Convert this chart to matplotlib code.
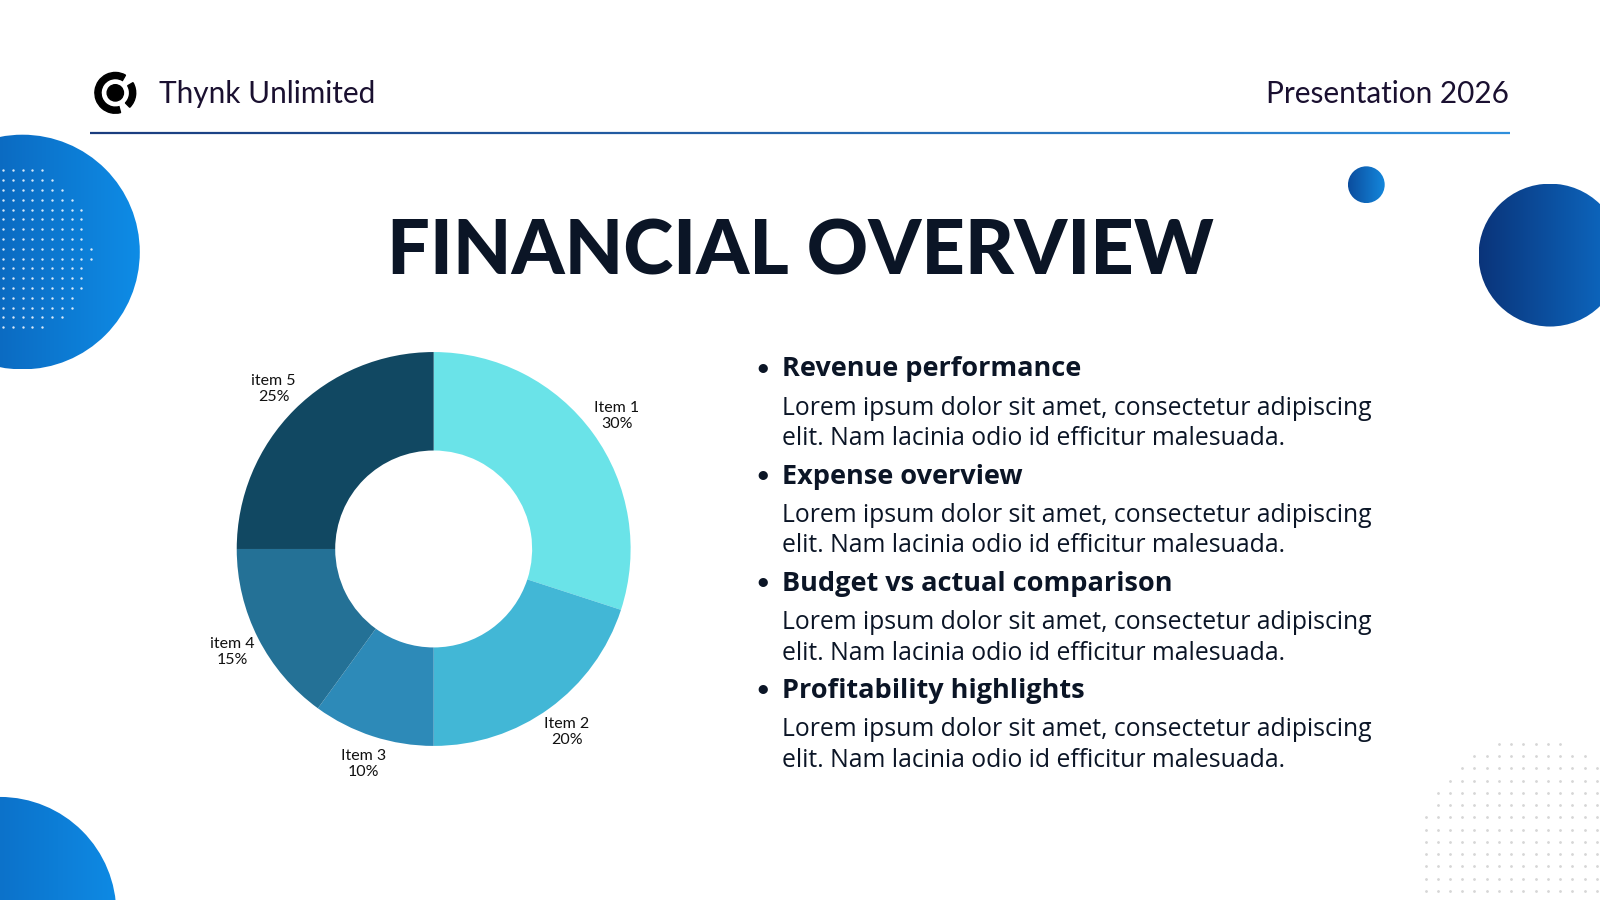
import numpy as np
import matplotlib.pyplot as plt
from matplotlib.patches import Circle, Wedge
from matplotlib.colors import LinearSegmentedColormap
from matplotlib.collections import LineCollection

# data
items = ['Item 1', 'Item 2', 'Item 3', 'item 4', 'item 5']
shares = [30, 20, 10, 15, 25]
slice_colors = ['#6ae3e8', '#42b7d6', '#2d8ab8', '#247196', '#114862']

headings = ['Revenue performance', 'Expense overview',
            'Budget vs actual comparison', 'Profitability highlights']
body_text = ('Lorem ipsum dolor sit amet, consectetur adipiscing\n'
             'elit. Nam lacinia odio id efficitur malesuada.')

company = 'Thynk Unlimited'
deck = 'Presentation 2026'
title = 'FINANCIAL OVERVIEW'

W, H = 1568, 882
INK = '#0b1526'
FONT = 'Lato'
BODY = 'Open Sans'

fig = plt.figure(figsize=(16, 9), dpi=100)
bg = fig.add_axes([0, 0, 1, 1])
bg.set_xlim(0, W)
bg.set_ylim(H, 0)
bg.axis('off')


def grad_circle(ax, cx, cy, r, c0, c1, z=1):
    cmap = LinearSegmentedColormap.from_list('g', [c0, c1])
    g = np.linspace(0, 1, 256).reshape(1, -1)
    im = ax.imshow(g, cmap=cmap, extent=(cx - r, cx + r, cy + r, cy - r),
                   aspect='auto', zorder=z, interpolation='bicubic')
    clip = Circle((cx, cy), r, transform=ax.transData)
    im.set_clip_path(clip)
    return im


# decorative circles
grad_circle(bg, 22, 247, 115, '#0a55aa', '#0e8ce6')
grad_circle(bg, 0, 895, 114, '#0a5ab0', '#0e8ae4')
grad_circle(bg, 1339, 181, 18, '#0b4d9e', '#1487dc')
grad_circle(bg, 1519, 250, 70, '#0a347a', '#0d6cc6')
bg.set_xlim(0, W)
bg.set_ylim(H, 0)

# dot pattern on left circle
gx, gy = np.meshgrid(np.arange(3, 100, 9.6), np.arange(167, 330, 9.6))
m = (gx ** 2 + (gy - 246) ** 2) < 90 ** 2
bg.scatter(gx[m], gy[m], s=3, color='white', alpha=0.85, lw=0, zorder=2)

# dot pattern bottom right
gx, gy = np.meshgrid(np.arange(1397, W, 12), np.arange(729, H, 12))
m = ((gx - 1500) ** 2 + (gy - 838) ** 2) < 114 ** 2
bg.scatter(gx[m], gy[m], s=4, color='#d6d6d6', lw=0, zorder=2)

# header rule with gradient
xs = np.linspace(88, 1480, 300)
segs = [[(xs[i], 130), (xs[i + 1], 130)] for i in range(len(xs) - 1)]
rule_cmap = LinearSegmentedColormap.from_list('r', ['#1a3c7e', '#2f8fdc'])
bg.add_collection(LineCollection(segs, colors=rule_cmap(np.linspace(0, 1, len(segs))),
                                 linewidths=1.6, zorder=3))

# logo
bg.add_patch(Wedge((113, 91), 20, 75, 300, width=6, color='black', zorder=4))
bg.add_patch(Wedge((113, 91), 20, -30, 45, width=6, color='black', zorder=4))
bg.add_patch(Circle((113, 91), 8, color='black', zorder=4))

bg.text(156, 92, company, fontsize=21.4, family=FONT, fontweight='normal',
        color='#1a1030', ha='left', va='center')
bg.text(1479, 92, deck, fontsize=21.4, family=FONT, fontweight='normal',
        color='#1a1030', ha='right', va='center')

bg.text(784, 247, title, fontsize=54.5, family=FONT, fontweight='black',
        color=INK, ha='center', va='center')

# bullet list
for i, head in enumerate(headings):
    y0 = 362 + 105 * i
    bg.text(747, y0 - 1, '\u2022', fontsize=18, family=FONT, color=INK,
            ha='center', va='center')
    bg.text(766, y0, head, fontsize=19.5, family=BODY, fontweight='bold',
            color=INK, ha='left', va='center')
    bg.text(766, y0 + 53, body_text, fontsize=17.8, family=BODY,
            color=INK, ha='left', va='center', linespacing=1.3)

# donut chart
cx, cy, r = 425, 538, 193
pie_ax = fig.add_axes([(cx - r) / W, 1 - (cy + r) / H, 2 * r / W, 2 * r / H])
labels = [f'{n}\n{v}%' for n, v in zip(items, shares)]
pie_ax.pie(shares, colors=slice_colors, startangle=90, counterclock=False,
           labels=labels, labeldistance=1.15,
           wedgeprops=dict(width=0.5, linewidth=0),
           textprops=dict(ha='center', va='center', fontsize=11.5,
                          family=FONT, color='#111111'))
pie_ax.set_xlim(-1, 1)
pie_ax.set_ylim(-1, 1)
pie_ax.set_aspect('equal')

fig.savefig('out.png', dpi=100)
